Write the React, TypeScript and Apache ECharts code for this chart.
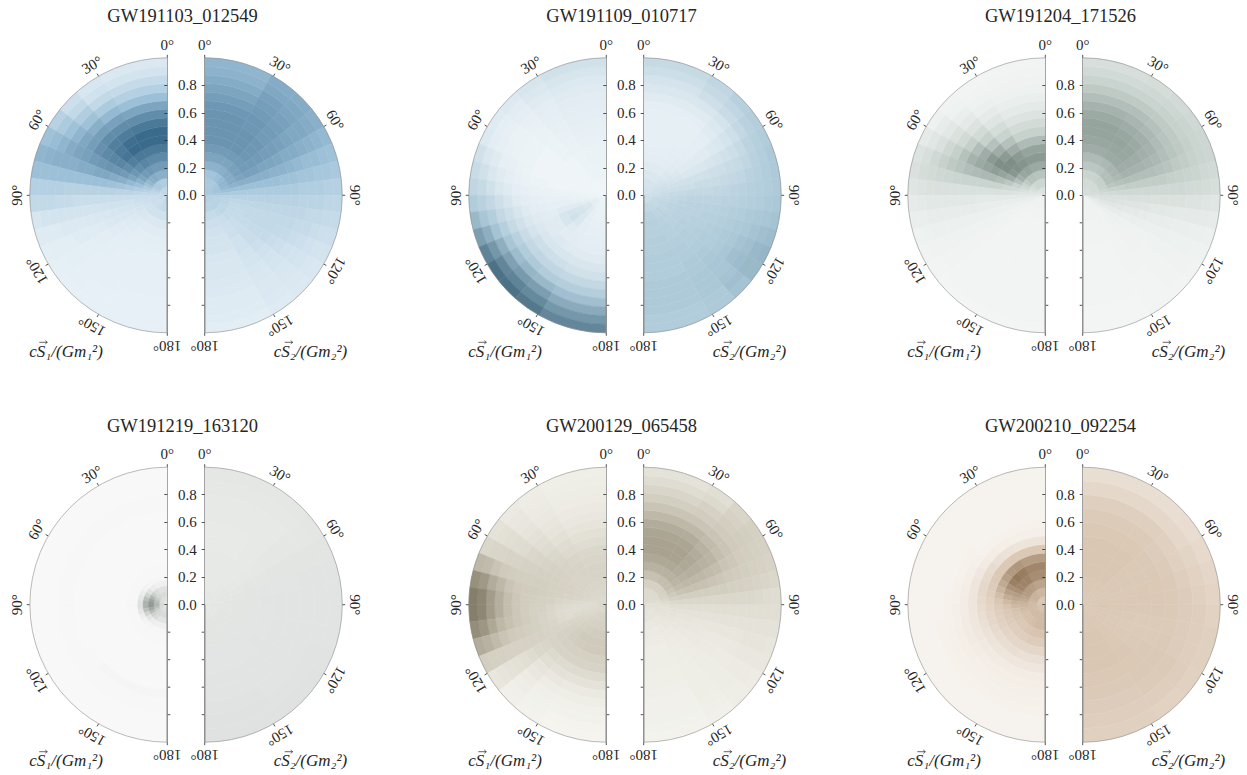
import React, { useEffect, useRef } from "react";
import * as echarts from "echarts";

const events = ["GW191103_012549", "GW191109_010717", "GW191204_171526", "GW191219_163120", "GW200129_065458", "GW200210_092254"];
const thetaEdges12 = [0, 33.6, 48.2, 60, 70.5, 80.4, 90, 99.6, 109.5, 120, 131.8, 146.4, 180];
const thetaEdges16 = [0, 29, 41.4, 51.3, 60, 67.9, 75.5, 82.8, 90, 97.2, 104.5, 112.1, 120, 128.7, 138.6, 151, 180];
const ringEdges10 = [0, .1, .2, .3, .4, .5, .6, .7, .8, .9, 1];
const ringEdges12 = [0, .03, .06, .1, .14, .18, .22, .3, .5, .62, .68, .8, 1];
const ringEdges16 = [0, .0625, .125, .1875, .25, .3125, .375, .4375, .5, .5625, .625, .6875, .75, .8125, .875, .9375, 1];
const thetaTicks = [0, 30, 60, 90, 120, 150, 180];
const radialLabelled = [0, .2, .4, .6, .8];
const radialLower = [.2, .4, .6, .8];

const ramps = [
  ["#f3f8fb", "#9cc0d8", "#3b6b8c"],
  ["#f2f7fa", "#a8c6d6", "#4d7287"],
  ["#f6f8f7", "#c5d0cb", "#75867f"],
  ["#fbfbfb", "#c9ceca", "#868f88"],
  ["#f8f8f4", "#cfcabb", "#857e6a"],
  ["#f9f6f2", "#d8c4b0", "#8f7356"],
];

const a1 = [
  [30,30,32,32,30,28,26,25,26,28,28,26,25,24,24,28],
  [38,40,42,42,38,34,30,28,24,24,24,24,22,22,24,26],
  [60,62,60,55,48,40,34,28,24,22,22,20,20,20,20,20],
  [72,74,72,66,58,48,38,30,24,22,20,18,16,15,14,14],
  [82,84,80,74,66,54,42,32,24,20,18,16,14,12,11,11],
  [92,92,88,80,72,60,46,32,24,20,17,15,12,11,10,10],
  [100,100,94,84,74,62,48,34,24,20,16,14,11,10,9,9],
  [100,98,92,84,76,64,50,34,24,19,15,13,11,9,9,8],
  [92,90,88,82,74,64,50,34,24,18,15,12,10,9,8,8],
  [80,80,80,78,72,62,50,34,24,18,14,11,10,9,8,8],
  [66,68,70,70,68,62,50,34,24,18,13,11,9,8,8,8],
  [50,54,60,64,66,60,50,34,26,18,13,11,9,8,8,8],
  [36,40,48,56,62,60,50,36,26,18,13,10,9,8,8,7],
  [26,28,38,48,56,60,50,36,28,18,12,10,9,8,7,7],
  [18,20,28,40,52,58,50,36,28,18,12,10,8,8,7,7],
  [14,16,22,34,48,56,50,36,28,16,12,9,8,7,7,7],
];
const a2 = [
  [44,44,44,44,44,44,44,40,36,36,36,36,36,36,36,36],
  [42,42,44,46,48,48,46,42,36,34,34,34,34,34,34,32],
  [46,50,54,56,56,54,50,42,34,32,32,30,30,30,28,26],
  [58,60,62,62,62,58,50,40,34,30,28,28,26,26,24,22],
  [66,66,68,68,66,60,50,40,34,30,28,26,26,24,22,20],
  [72,72,72,72,68,60,50,40,34,30,28,28,26,24,22,18],
  [76,76,74,72,68,60,50,40,34,30,28,28,26,24,20,18],
  [76,76,74,72,66,60,50,40,34,30,28,28,26,24,20,16],
  [76,76,74,70,66,58,50,40,34,30,28,28,26,22,18,15],
  [76,74,72,70,64,58,48,40,34,30,28,27,24,20,17,15],
  [74,74,72,68,62,56,48,40,34,30,28,26,22,18,16,14],
  [70,72,70,66,62,54,46,38,32,30,26,24,20,17,15,13],
  [66,70,68,64,60,52,46,38,32,28,26,22,18,16,14,12],
  [62,68,66,64,58,52,44,38,32,28,24,20,17,15,14,12],
  [58,64,64,62,56,50,44,36,30,26,22,18,16,14,13,11],
  [56,62,62,60,54,48,42,36,30,26,22,18,15,13,12,10],
];
const b1 = [
  [3,3,3,3,3,3,3,3,3,4,5,5,5,5,4,4],
  [3,3,3,3,3,3,3,4,4,5,8,10,10,8,6,5],
  [4,4,3,3,3,3,3,4,5,6,10,15,17,12,8,6],
  [4,4,3,3,3,3,3,4,5,7,12,18,20,15,9,7],
  [5,4,3,3,3,3,3,4,6,8,13,20,22,16,10,8],
  [5,4,3,3,3,3,3,4,6,8,12,18,18,13,10,9],
  [6,5,4,3,3,3,3,5,6,8,10,12,12,11,11,10],
  [7,5,4,3,3,3,4,5,7,9,11,12,13,14,13,12],
  [8,6,4,3,3,3,4,6,8,10,13,15,17,18,18,17],
  [9,7,5,4,4,4,5,7,10,13,16,20,24,26,25,22],
  [10,8,5,4,4,5,7,9,13,18,22,28,32,34,34,32],
  [11,9,6,5,5,7,9,12,18,24,30,38,44,46,44,42],
  [12,10,7,5,6,8,12,16,24,32,40,50,56,60,58,54],
  [14,12,9,7,8,12,16,22,32,42,52,64,72,76,74,66],
  [18,15,11,9,10,16,22,30,38,50,64,78,88,90,86,78],
  [22,18,14,12,14,22,28,34,44,58,74,90,100,100,96,88],
];
const b2 = [
  [22,22,22,22,22,22,24,24,24,26,28,28,28,28,28,28],
  [20,20,20,22,22,24,24,26,28,30,32,32,32,32,34,34],
  [16,16,18,20,22,24,26,28,30,32,34,34,34,36,36,38],
  [12,13,15,17,20,22,26,30,32,34,36,36,36,38,38,40],
  [10,11,13,15,18,22,26,30,34,36,38,38,38,38,40,40],
  [9,10,11,13,16,22,26,32,36,38,38,38,40,40,40,42],
  [8,9,10,12,16,22,28,32,36,38,38,40,40,42,42,42],
  [8,8,9,12,16,22,28,32,36,38,40,40,42,42,44,44],
  [8,8,9,12,18,24,28,34,36,38,40,42,44,44,44,44],
  [8,8,10,14,20,26,30,34,38,40,42,44,44,46,46,44],
  [9,9,12,16,22,28,32,36,38,42,44,46,46,48,46,46],
  [12,12,15,20,26,30,34,38,40,44,46,48,50,50,48,46],
  [16,17,20,24,30,34,38,40,42,46,48,52,54,50,48,46],
  [20,24,28,32,36,38,40,42,44,48,52,54,56,52,48,46],
  [26,30,34,38,40,42,44,44,46,50,54,58,58,54,46,44],
  [30,34,40,42,44,46,46,46,48,52,56,60,58,52,46,44],
];
const c1 = [
  [30,30,30,28,26,24,22,20,18,14,12,10,9,9,9,9],
  [42,44,42,38,34,30,26,22,18,14,12,9,8,7,7,7],
  [58,60,60,54,46,38,30,24,18,14,11,8,7,6,6,6],
  [76,80,78,72,60,46,36,26,18,13,10,8,6,6,5,5],
  [86,90,92,88,74,56,40,28,18,13,10,8,6,5,5,5],
  [80,86,94,94,80,62,44,30,18,13,10,8,6,5,5,5],
  [64,74,86,94,84,66,46,30,18,13,10,8,6,5,5,5],
  [48,60,74,86,80,66,46,30,18,13,10,8,6,5,5,5],
  [36,46,60,74,76,64,46,30,20,14,10,8,6,5,5,5],
  [26,34,48,62,70,62,46,30,20,14,10,8,6,5,5,5],
  [18,24,36,50,60,58,44,30,20,14,10,8,6,5,5,5],
  [12,16,26,38,50,54,42,30,20,14,10,8,6,5,5,5],
  [9,11,18,28,40,48,40,30,20,14,10,7,6,5,5,5],
  [7,8,12,20,30,40,36,28,20,14,10,7,6,5,5,5],
  [6,6,8,14,22,32,34,26,18,12,9,7,5,5,5,5],
  [5,5,6,9,16,26,30,24,16,12,8,6,5,4,4,4],
];
const c2 = [
  [34,34,34,34,34,34,34,34,30,26,18,14,10,8,8,8],
  [36,36,38,38,38,38,36,34,30,26,18,14,11,8,8,8],
  [44,46,50,50,50,48,42,36,30,28,22,16,11,8,7,7],
  [56,58,62,62,62,56,48,38,30,28,22,15,10,8,7,6],
  [64,66,68,68,66,60,50,40,30,26,20,14,10,7,6,6],
  [74,76,76,74,70,62,52,40,30,24,18,12,9,7,6,6],
  [78,78,78,74,70,62,52,40,30,24,17,12,8,7,6,5],
  [80,80,78,74,70,62,52,40,30,22,15,11,8,7,6,5],
  [80,78,76,72,68,62,52,40,28,20,14,10,8,7,6,5],
  [76,74,72,70,66,60,52,40,28,20,14,10,8,6,6,5],
  [70,68,66,64,62,58,50,40,28,19,13,10,8,6,6,5],
  [62,62,60,58,58,54,48,40,28,18,12,9,8,6,5,5],
  [54,54,54,54,54,52,46,38,26,18,12,9,7,6,5,5],
  [46,46,48,48,50,48,44,36,26,17,11,9,7,6,5,4],
  [38,40,42,44,44,44,40,34,24,16,11,8,7,6,5,4],
  [32,34,38,40,42,42,38,32,22,15,10,8,6,5,5,4],
];
const d1 = [
  [22,22,22,22,22,22,22,22,22,22,22,22],
  [30,30,32,35,38,40,40,38,35,32,30,30],
  [35,38,45,55,62,68,68,62,52,42,38,35],
  [28,35,50,68,82,92,92,80,65,46,34,26],
  [12,16,28,45,62,72,72,60,42,25,15,12],
  [6,7,10,16,22,28,28,22,14,9,7,6],
  [4,4,4,5,5,5,5,5,5,4,4,4],
  [3,3,3,3,3,3,3,3,3,3,3,3],
  [3,3,3,3,3,3,3,3,3,3,3,3],
  [3,3,3,3,3,3,3,3,3,4,7,7],
  [4,4,4,4,4,4,4,4,4,4,4,4],
  [3,3,3,3,3,3,3,3,3,3,3,3],
];
const d2 = [
  [22,22,22,22,22,24,24,22,22,22,22,22],
  [20,21,22,23,23,23,23,23,24,24,24,24],
  [20,20,21,22,23,24,24,24,24,25,25,24],
  [20,20,21,23,24,25,25,25,25,25,25,25],
  [19,20,21,23,25,26,25,25,25,26,25,25],
  [19,20,22,24,25,26,26,26,26,26,26,26],
  [20,20,22,24,25,26,26,26,26,26,26,26],
  [20,20,22,24,26,26,26,26,26,26,26,27],
  [21,21,22,24,26,26,26,26,27,27,27,28],
  [22,22,23,24,26,26,26,26,27,28,28,28],
];
const e1 = [
  [34,34,34,34,36,36,36,36,36,36,36,36,36,36,36,36],
  [36,36,36,36,36,36,34,32,32,34,34,36,36,38,40,40],
  [38,38,38,38,38,38,36,32,30,32,34,36,38,40,42,44],
  [40,40,40,40,40,40,38,34,30,30,34,38,40,44,46,48],
  [40,40,40,40,42,42,40,36,32,30,32,38,42,46,50,50],
  [38,40,40,42,42,42,42,38,34,32,34,38,42,46,48,50],
  [36,38,40,42,44,44,44,42,38,36,38,40,42,44,44,44],
  [30,34,38,42,44,46,46,44,42,40,40,40,40,40,40,40],
  [26,30,36,40,44,46,48,46,44,44,44,42,38,34,32,32],
  [22,26,32,38,42,46,48,48,48,48,46,42,36,28,25,24],
  [18,22,28,36,42,46,50,52,52,52,48,42,32,22,18,16],
  [16,20,25,32,40,48,54,58,58,56,50,42,28,18,13,12],
  [14,17,22,30,40,50,62,68,68,62,54,42,26,14,10,9],
  [13,15,20,28,38,54,70,80,80,72,60,44,24,12,8,7],
  [12,14,18,26,38,60,82,94,94,84,66,44,22,10,7,5],
  [11,13,16,24,36,62,88,100,100,90,70,46,20,9,6,4],
];
const e2 = [
  [34,34,34,34,32,30,28,26,26,26,26,26,26,26,24,24],
  [34,34,34,34,34,32,30,28,26,26,26,24,24,22,22,22],
  [42,42,44,44,42,40,36,30,26,24,24,24,22,20,18,17],
  [56,58,58,58,54,50,42,34,28,25,24,22,20,18,16,15],
  [66,66,66,64,60,54,46,36,28,24,22,20,18,16,15,14],
  [72,72,70,66,62,56,46,36,28,24,22,20,17,15,14,12],
  [76,76,72,68,62,56,46,36,28,24,20,18,16,14,13,12],
  [76,76,72,68,62,56,46,36,28,24,20,17,16,14,13,12],
  [74,74,70,66,60,54,46,36,28,24,20,16,15,14,12,11],
  [70,70,66,64,58,52,46,36,28,24,20,16,15,13,12,11],
  [62,62,60,58,54,50,44,36,28,24,20,16,14,13,12,10],
  [54,54,54,54,52,48,44,36,28,24,20,17,14,13,12,9],
  [46,48,50,50,48,46,42,36,28,24,22,18,15,13,12,9],
  [38,42,46,48,46,44,40,34,28,24,22,18,15,13,11,8],
  [30,34,42,46,44,42,38,32,28,24,22,18,15,12,10,7],
  [24,28,38,44,42,40,36,30,28,24,20,18,14,12,9,6],
];
const f1 = [
  [50,50,50,50,50,50,50,50,52,52,52,52,52,52,52,52],
  [58,60,62,62,62,60,58,56,56,56,56,56,56,56,56,56],
  [70,74,76,76,74,70,66,62,58,56,54,52,52,52,54,56],
  [84,90,90,88,82,74,68,62,56,52,50,48,46,46,48,50],
  [88,94,96,92,82,72,64,56,50,46,44,42,40,40,40,42],
  [74,78,76,72,66,60,54,48,42,40,38,36,34,32,32,32],
  [46,46,46,46,44,42,40,36,34,32,30,28,26,24,24,22],
  [18,20,22,26,28,30,30,28,26,24,22,20,19,18,16,15],
  [7,8,9,11,14,16,17,17,16,15,15,14,13,12,11,10],
  [5,5,5,6,7,8,9,10,10,11,11,11,10,9,8,8],
  [4,4,4,5,5,5,6,6,7,7,8,8,8,7,7,7],
  [4,4,4,4,4,4,4,5,5,5,6,6,6,6,6,6],
  [4,4,4,4,4,4,4,4,4,5,5,5,5,5,5,5],
  [4,4,4,4,4,4,4,4,4,4,4,4,4,4,4,4],
  [4,4,4,4,4,4,4,4,4,4,4,4,4,4,4,4],
  [4,4,4,4,4,4,4,4,4,4,4,4,4,4,4,4],
];
const f2 = [
  [45,45,45,45,45,46,46,45,45,45,45,45],
  [46,46,46,45,45,46,47,46,45,45,46,46],
  [48,48,46,45,45,46,46,45,44,44,46,48],
  [48,48,46,45,45,46,45,44,43,44,46,48],
  [48,48,46,45,46,46,45,43,43,44,47,48],
  [46,46,45,45,46,46,45,43,43,45,46,46],
  [43,43,42,43,44,44,44,43,44,45,45,44],
  [39,39,38,38,40,42,42,42,42,44,43,42],
  [30,30,31,33,36,38,40,40,40,41,40,40],
  [24,24,25,28,32,34,36,38,38,37,36,38],
];

const spin1 = [a1, b1, c1, d1, e1, f1];
const spin2 = [a2, b2, c2, d2, e2, f2];

const leftCenters = [167.3, 606.3, 1045.3];
const rightCenters = [204.7, 643.7, 1082.7];
const rowCenters = [195.3, 604.7];
const RADIUS = 137.5;
const FONT = '"Liberation Serif", serif';
const INK = "#262626";

function rampColor(ramp: string[], v: number) {
  return echarts.color.lerp(Math.min(1, v / 100), ramp) as string;
}

function cellsOf(grid: number[][]) {
  const rings = grid.length === 16 ? ringEdges16 : grid.length === 12 ? ringEdges12 : ringEdges10;
  const cells: number[][] = [];
  grid.forEach((row, i) => {
    const thetas = row.length === 16 ? thetaEdges16 : thetaEdges12;
    row.forEach((v, j) => {
      cells.push([rings[i], thetas[j], rings[i + 1], thetas[j + 1], v]);
    });
  });
  return cells;
}

function arrow(x: number, y: number) {
  return {
    type: "group",
    children: [
      { type: "line", shape: { x1: x, y1: y, x2: x + 8, y2: y }, style: { stroke: INK, lineWidth: 0.7 } },
      { type: "polyline", shape: { points: [[x + 6, y - 1.6], [x + 8, y], [x + 6, y + 1.6]] }, style: { stroke: INK, fill: "none", lineWidth: 0.7 } },
    ],
  };
}

function buildOption() {
  const polar: any[] = [], angleAxis: any[] = [], radiusAxis: any[] = [], series: any[] = [], title: any[] = [], graphic: any[] = [];
  events.forEach((name, p) => {
    const col = p % 3, row = Math.floor(p / 3);
    const cy = rowCenters[row];
    title.push({
      text: name, left: (leftCenters[col] + rightCenters[col]) / 2 - 8.5, top: cy - 193.5, textAlign: "center",
      textStyle: { fontFamily: FONT, fontSize: 18.5, fontWeight: "normal", color: INK },
    });
    graphic.push(
      { type: "text", x: leftCenters[col] - 138, y: cy + 156, style: { text: "cS₁/(Gm₁²)", fontFamily: FONT, fontStyle: "italic", fontSize: 17, fill: INK, textVerticalAlign: "middle" } },
      { type: "text", x: rightCenters[col] + 142.5, y: cy + 156, style: { text: "cS₂/(Gm₂²)", fontFamily: FONT, fontStyle: "italic", fontSize: 17, fill: INK, textAlign: "right", textVerticalAlign: "middle" } },
      arrow(leftCenters[col] - 128, cy + 147),
      arrow(rightCenters[col] + 80, cy + 147),
    );
    [0, 1].forEach((side) => {
      const isLeft = side === 0;
      const idx = polar.length;
      const cx = isLeft ? leftCenters[col] : rightCenters[col];
      const grid = isLeft ? spin1[p] : spin2[p];
      polar.push({ center: [cx, cy], radius: RADIUS });
      angleAxis.push({
        polarIndex: idx, type: "value", min: 0, max: 180, interval: 30, startAngle: 90,
        endAngle: isLeft ? 270 : -90, clockwise: !isLeft, z: 5,
        axisLine: { show: true, lineStyle: { color: "#8f8f8f", width: 0.6 } },
        axisTick: { show: true, length: 3, lineStyle: { color: INK, width: 0.8 } },
        axisLabel: { show: false }, splitLine: { show: false }, splitArea: { show: false },
      });
      radiusAxis.push({
        polarIndex: idx, type: "value", min: 0, max: 1, interval: 0.2, z: 5,
        axisLine: { show: true, lineStyle: { color: "#8f8f8f", width: 0.8 } },
        axisTick: { show: true, length: 3, inside: isLeft, customValues: radialLabelled, lineStyle: { color: INK, width: 0.8 } },
        axisLabel: isLeft ? { show: false } : {
          show: true, margin: 8, customValues: radialLabelled, formatter: (v: number) => v.toFixed(1),
          fontFamily: FONT, fontSize: 15, color: INK,
        },
        splitLine: { show: false }, splitArea: { show: false },
      });
      const ramp = ramps[p];
      series.push({
        type: "custom", coordinateSystem: "polar", polarIndex: idx, silent: true, clip: false,
        encode: { radius: 0, angle: 1 }, data: cellsOf(grid),
        renderItem: (params: any, api: any) => {
          const c = params.coordSys;
          const pIn = api.coord([api.value(2), api.value(1)]);
          const pOut = api.coord([api.value(2), api.value(3)]);
          const r0 = api.value(0) * c.r;
          const r = api.value(2) * c.r;
          const a0 = Math.atan2(pIn[1] - c.cy, pIn[0] - c.cx);
          const a1_ = Math.atan2(pOut[1] - c.cy, pOut[0] - c.cx);
          const color = rampColor(ramp, api.value(4));
          return {
            type: "sector",
            shape: { cx: c.cx, cy: c.cy, r0, r, startAngle: isLeft ? a1_ : a0, endAngle: isLeft ? a0 : a1_, clockwise: true },
            style: { fill: color, stroke: color, lineWidth: 0.5 },
          };
        },
      });
      // lower half of the central radial axis
      series.push({
        type: "custom", coordinateSystem: "polar", polarIndex: idx, silent: true, clip: false, z: 6,
        encode: { radius: 0, angle: 1 }, data: radialLower.map((r) => [r, 180]),
        renderItem: (params: any, api: any) => {
          const pt = api.coord([api.value(0), api.value(1)]);
          const end = api.coord([1, 180]);
          const c = params.coordSys;
          const dir = isLeft ? 1 : -1;
          return {
            type: "group",
            children: [
              { type: "line", shape: { x1: pt[0], y1: pt[1], x2: pt[0] + dir * 3, y2: pt[1] }, style: { stroke: INK, lineWidth: 0.8 } },
              { type: "line", shape: { x1: c.cx, y1: c.cy, x2: end[0], y2: end[1] }, style: { stroke: "#8f8f8f", lineWidth: 0.8 } },
            ],
          };
        },
      });
      // rotated angle labels
      series.push({
        type: "custom", coordinateSystem: "polar", polarIndex: idx, silent: true, clip: false, z: 6,
        encode: { radius: 0, angle: 1 }, data: thetaTicks.map((t) => [1.095, t]),
        renderItem: (_: any, api: any) => {
          const pt = api.coord([api.value(0), api.value(1)]);
          const t = api.value(1);
          return {
            type: "text", x: pt[0], y: pt[1], rotation: ((isLeft ? t : -t) * Math.PI) / 180,
            style: { text: `${t}°`, fontFamily: FONT, fontSize: 15, fill: INK, textAlign: "center", textVerticalAlign: "middle" },
          };
        },
      });
    });
  });
  return { animation: false, backgroundColor: "#ffffff", title, polar, angleAxis, radiusAxis, series, graphic };
}

export default function App() {
  const ref = useRef<HTMLDivElement>(null);
  useEffect(() => {
    const chart = echarts.init(ref.current!, undefined, { renderer: "svg" });
    chart.setOption(buildOption() as any);
    return () => chart.dispose();
  }, []);
  return <div ref={ref} style={{ position: "absolute", left: 0, top: 0, width: 1247, height: 775 }} />;
}
